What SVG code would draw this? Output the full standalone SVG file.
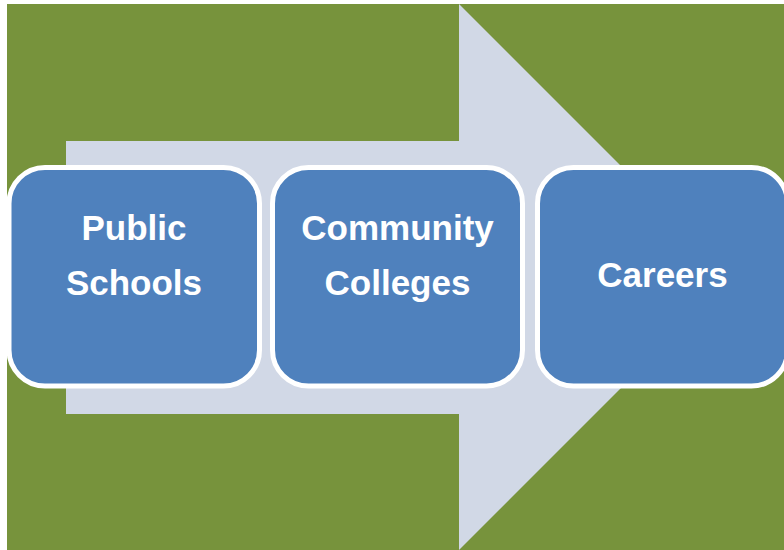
<svg xmlns="http://www.w3.org/2000/svg" width="784" height="550" viewBox="0 0 784 550">
<style>
.box{fill:#4F81BD;stroke:#FFFFFF;stroke-width:5}
.lbl{font-family:"Liberation Sans",Arial,sans-serif;font-weight:bold;font-size:35px;fill:#FFFFFF;text-anchor:middle}
</style>
<rect x="0" y="0" width="784" height="550" fill="#FFFFFF"/>
<rect id="background" x="7" y="4" width="777" height="546" fill="#77933C"/>
<g id="connectors">
<polygon points="66,141 459,141 459,4 732,277 459,550 459,414 66,414" fill="#D1D8E6"/>
</g>
<g id="node-public-schools">
<rect class="box" x="9" y="167.5" width="250.5" height="218.5" rx="36" ry="36"/>
<text class="lbl" x="134" y="240">Public</text>
<text class="lbl" x="134" y="295">Schools</text>
</g>
<g id="node-community-colleges">
<rect class="box" x="272.5" y="167.5" width="250" height="218.5" rx="36" ry="36"/>
<text class="lbl" x="397.5" y="240">Community</text>
<text class="lbl" x="397.5" y="295">Colleges</text>
</g>
<g id="node-careers">
<rect class="box" x="537.5" y="167.5" width="250" height="218.5" rx="36" ry="36"/>
<text class="lbl" x="662.5" y="287">Careers</text>
</g>
</svg>
